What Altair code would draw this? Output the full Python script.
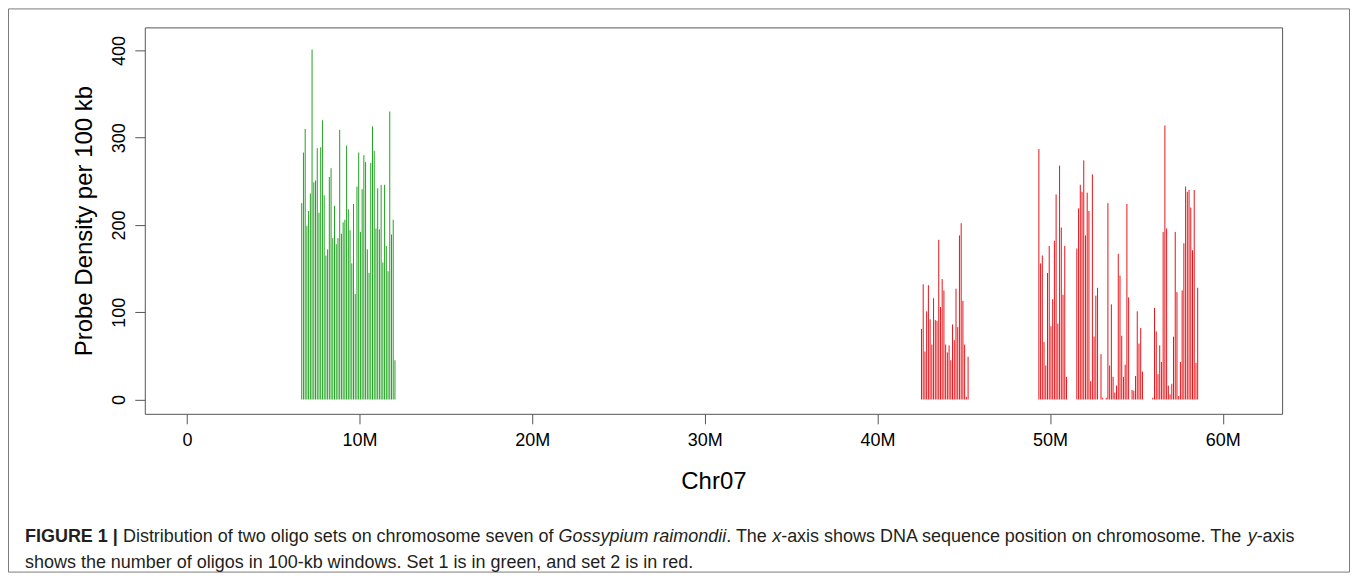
import altair as alt
import pandas as pd

# ---- data: probe counts per 100-kb window ----
WINDOW_MB = 0.1

set1_start_mb = 6.65
set1_counts = [225, 283, 310, 199, 216, 236, 401, 249, 251, 288, 214, 289, 320, 234,
               165, 172, 255, 265, 185, 222, 178, 185, 309, 190, 203, 206, 291, 218,
               194, 156, 224, 121, 244, 283, 192, 241, 280, 272, 172, 145, 271, 313,
               285, 196, 242, 195, 246, 157, 246, 176, 147, 330, 189, 206, 45]

set2a_start_mb = 42.55
set2a_counts = [81, 132, 55, 101, 131, 92, 63, 116, 91, 90, 183, 106, 138, 125, 63,
                54, 62, 45, 86, 68, 127, 83, 188, 202, 113, 63, 3, 49]

set2b_start_mb = 49.35
set2b_counts = [287, 156, 165, 66, 39, 145, 176, 84, 115, 182, 235, 87, 268, 197, 120,
                176, 26, 0, 0, 0, 0, 0, 173, 219, 246, 238, 274, 188, 237, 216, 21,
                258, 72, 119, 128, 0, 52, 2, 0, 2, 225, 39, 109, 26, 8, 16, 167, 142,
                73, 26, 40, 224, 117, 0, 11, 10, 27, 101, 64, 82, 32, 0, 0, 0, 0, 0,
                2, 105, 78, 29, 62, 43, 192, 314, 196, 16, 6, 18, 72, 192, 123, 4, 43,
                125, 179, 244, 238, 240, 220, 171, 240, 42, 128]

set_names = ["Set 1", "Set 2"]
x_ticks = [0, 10, 20, 30, 40, 50, 60]
y_ticks = [0, 100, 200, 300, 400]

rows = []
for start, counts, name in [(set1_start_mb, set1_counts, "Set 1"),
                            (set2a_start_mb, set2a_counts, "Set 2"),
                            (set2b_start_mb, set2b_counts, "Set 2")]:
    for i, c in enumerate(counts):
        rows.append({"pos": round(start + i * WINDOW_MB, 3), "count": c, "base": 0, "set": name})
df = pd.DataFrame(rows)

GREEN = "#22a222"
RED = "#e8141a"
FONT = "Liberation Sans"

bars = alt.Chart(df).mark_rule(strokeWidth=1).encode(
    x=alt.X("pos:Q",
            scale=alt.Scale(domain=[-2.44, 63.44], nice=False, zero=False),
            axis=alt.Axis(values=x_ticks,
                          labelExpr="datum.value == 0 ? '0' : datum.value + 'M'",
                          title="Chr07", titleFontSize=24, titlePadding=20,
                          labelFontSize=18, labelPadding=8, tickSize=10,
                          labelFlush=False, labelOverlap=False)),
    y=alt.Y("count:Q",
            scale=alt.Scale(domain=[-16.4, 426.4], nice=False, zero=False),
            axis=alt.Axis(values=y_ticks, title="Probe Density per 100 kb",
                          titleFontSize=24, titlePadding=14,
                          labelFontSize=18, labelPadding=6, tickSize=10,
                          labelAngle=270, labelAlign="center", labelBaseline="bottom",
                          labelFlush=False, labelOverlap=False)),
    y2="base:Q",
    color=alt.Color("set:N", scale=alt.Scale(domain=set_names, range=[GREEN, RED]), legend=None),
)

one = pd.DataFrame({"k": [0]})

# outer figure frame (plot origin is at page x=145, y=27)
frame = alt.Chart(one).mark_rect(filled=False, stroke="#7a7a7a", strokeWidth=1).encode(
    x=alt.value(-136.5), x2=alt.value(1206.5), y=alt.value(-18.5), y2=alt.value(545.5)
)

# caption segments: (text, page x, line, style)
caption_parts = [
    ("FIGURE 1 |", 25.0, 0, "bold"),
    ("Distribution of two oligo sets on chromosome seven of", 123.1, 0, "normal"),
    ("Gossypium raimondii", 559.3, 0, "italic"),
    (". The", 727.3, 0, "normal"),
    ("x", 773.3, 0, "italic"),
    ("-axis shows DNA sequence position on chromosome. The", 782.3, 0, "normal"),
    ("y", 1249.5, 0, "italic"),
    ("-axis", 1258.5, 0, "normal"),
    ("shows the number of oligos in 100-kb windows. Set 1 is in green, and set 2 is in red.", 25.0, 1, "normal"),
]
line_y = [537, 563]

caption_layers = []
for text, px, line, style in caption_parts:
    kw = dict(text=text, align="left", baseline="middle", fontSize=18, font=FONT, color="#231f20")
    if style == "bold":
        kw["fontWeight"] = "bold"
    if style == "italic":
        kw["fontStyle"] = "italic"
    caption_layers.append(
        alt.Chart(one).mark_text(**kw).encode(x=alt.value(px - 145), y=alt.value(line_y[line] - 27))
    )

chart = alt.layer(bars, frame, *caption_layers).properties(
    width=1139, height=387,
    autosize=alt.AutoSizeParams(type="none"),
    padding={"left": 137, "top": 19, "right": 68, "bottom": 159},
).configure_view(
    stroke="#555555", strokeWidth=1
).configure_axis(
    domain=False, grid=False, tickColor="#555555", tickWidth=1,
    labelColor="black", titleColor="black", labelFont=FONT, titleFont=FONT,
    titleFontWeight="normal"
)

chart.save("out.html", embed_options={"renderer": "svg", "actions": False})
